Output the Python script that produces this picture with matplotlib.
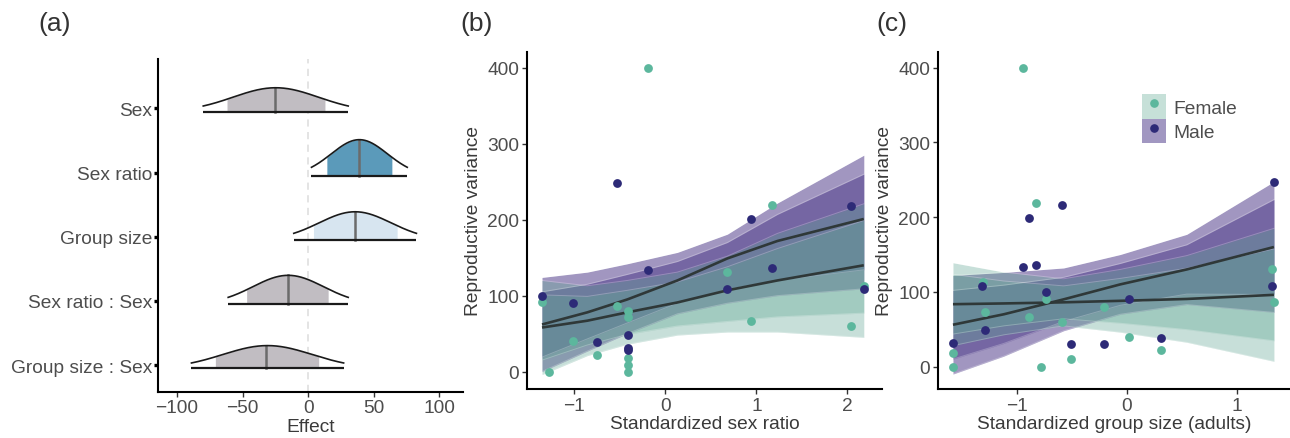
import numpy as np
import matplotlib.pyplot as plt
from matplotlib.patches import Patch
from matplotlib.lines import Line2D
from matplotlib.legend_handler import HandlerTuple

plt.rcParams['font.family'] = ['Liberation Sans', 'DejaVu Sans']

# ---- (a) posterior effects ----
terms = ['Sex', 'Sex ratio', 'Group size', 'Sex ratio : Sex', 'Group size : Sex']
eff_median = [-25, 39, 36, -15.5, -32.5]
eff_inner_lo = [-62, 14, 4, -47, -71]
eff_inner_hi = [13, 64, 68, 15.5, 8]
eff_outer_lo = [-80, 2.5, -11, -61, -89]
eff_outer_hi = [30.5, 75.5, 82.5, 30.5, 27]
eff_fill = ['#c1bdc2', '#5b9aba', '#d7e5f0', '#c1bdc2', '#c1bdc2']

# ---- (b) sex ratio ----
b_fem_x = [-0.194, -1.355, -1.275, -1.015, -0.747, -0.527, -0.407, -0.407, -0.407, -0.407, -0.407,
           0.674, 0.941, 1.172, 2.04, 2.18]
b_fem_y = [400, 91, 0, 40, 22, 86.5, 80, 72.5, 18, 9, 0, 131, 67, 220, 60, 113]
b_mal_x = [-1.355, -1.015, -0.747, -0.527, -0.407, -0.407, -0.407, -0.194, 0.674, 0.941, 1.172, 2.04, 2.18]
b_mal_y = [100, 90.5, 38.7, 248, 48.8, 31.6, 29, 133.6, 108.6, 200.5, 137, 218, 108.6]

b_grid = [-1.355, -0.857, -0.418, 0.132, 0.681, 1.231, 2.18]
b_mal_fit = [62, 78, 95, 120, 149, 172, 201]
b_mal_hi95 = [124, 131, 142, 157, 181, 222, 285]
b_mal_lo95 = [0, 27, 50, 76, 90, 100, 109]
b_mal_hi80 = [105, 115, 128, 145, 170, 207, 260]
b_mal_lo80 = [19, 43, 64, 90, 108, 120, 134]
b_fem_fit = [58, 67, 78, 91, 107, 120, 140]
b_fem_hi95 = [120, 113, 120, 131, 152, 182, 221]
b_fem_lo95 = [-4, 21, 36, 48, 52, 52, 45]
b_fem_hi80 = [101, 99, 107, 118, 138, 162, 199]
b_fem_lo80 = [15, 35, 49, 60, 66, 72, 77]

# ---- (c) group size ----
c_fem_x = [-0.946, -1.58, -1.58, -1.287, -1.31, -0.885, -0.822, -0.78, -0.737, -0.592, -0.51,
           -0.208, 0.015, 0.314, 1.315, 1.336]
c_fem_y = [400, 18, 0, 72.5, 113, 67, 219, 0, 91, 60, 9.5, 80, 40, 22, 130.6, 86]
c_mal_x = [-1.58, -1.312, -1.287, -0.946, -0.885, -0.822, -0.737, -0.592, -0.51, -0.208, 0.015,
           0.314, 1.336, 1.315]
c_mal_y = [32, 108, 49, 133, 199.5, 136.4, 100, 216, 30, 30, 90, 38.7, 246.6, 108]

c_grid = [-1.58, -1.118, -0.574, -0.06, 0.544, 1.336]
c_mal_fit = [56, 70, 90, 110, 130, 160]
c_mal_hi95 = [122, 126, 132, 150, 177, 247.5]
c_mal_lo95 = [-10, 14, 48, 70, 83, 72.5]
c_mal_hi80 = [102, 109, 119.5, 138, 163, 223.5]
c_mal_lo80 = [10, 31, 60.5, 82, 97, 96.5]
c_fem_fit = [83.5, 84.5, 86, 88, 90.5, 96]
c_fem_hi95 = [139, 126.5, 117.5, 130, 148.5, 185]
c_fem_lo95 = [28, 42.5, 54.5, 46, 32.5, 7]
c_fem_hi80 = [123.5, 114.5, 108, 118, 131.5, 157.5]
c_fem_lo80 = [43.5, 54.5, 64, 58, 49.5, 34.5]

FEM_PT = '#5cb79d'
MAL_PT = '#2d2a77'
FEM_FILL = '#5fa692'
MAL_FILL = '#513e8c'
ALPHA = {FEM_FILL: 0.35, MAL_FILL: 0.54}
TXT = '#4d4d4d'
FS = 13.8

fig = plt.figure(figsize=(12.9, 4.39), dpi=100)


def style_axes(ax):
    for s in ['top', 'right']:
        ax.spines[s].set_visible(False)
    for s in ['left', 'bottom']:
        ax.spines[s].set_linewidth(1.5)
        ax.spines[s].set_color('black')
    ax.tick_params(labelsize=FS, labelcolor=TXT, color='#333333', width=1.0, length=3.5, pad=2)


# ---------------- panel (a) ----------------
ax = fig.add_axes([158 / 1290, 1 - 392.7 / 439, 305 / 1290, 332.7 / 439])
ax.axvline(0, color='#e2e2e2', lw=1.3, ls=(0, (4, 3)), zorder=0)
n = len(terms)
for i in range(n):
    base = n - 1 - i
    lo, hi = eff_outer_lo[i], eff_outer_hi[i]
    mu = (lo + hi) / 2
    sd = (hi - lo) / 2 / 1.7
    xs = np.linspace(lo, hi, 300)
    dens = 30.3 * np.exp(-0.5 * ((xs - mu) / sd) ** 2) / (sd * np.sqrt(2 * np.pi))
    m = (xs >= eff_inner_lo[i]) & (xs <= eff_inner_hi[i])
    ax.fill_between(xs[m], base, base + dens[m], color=eff_fill[i], lw=0, zorder=1)
    ax.plot(xs, base + dens, color='#1a1a1a', lw=1.2, zorder=3)
    ax.plot([lo, hi], [base, base], color='#1a1a1a', lw=1.6, zorder=3, solid_capstyle='butt')
    dm = 30.3 * np.exp(-0.5 * ((eff_median[i] - mu) / sd) ** 2) / (sd * np.sqrt(2 * np.pi))
    ax.plot([eff_median[i]] * 2, [base, base + dm], color='#6b6b6b', lw=1.8, zorder=2)
ax.set_xlim(-114.5, 118)
ax.set_ylim(-0.364, 4.82)
ax.set_yticks([n - 1 - i + 0.05 for i in range(n)])
ax.set_yticklabels(terms)
ax.set_xticks([-100, -50, 0, 50, 100])
style_axes(ax)
ax.tick_params(axis='y', length=3, width=2.4, color='black', pad=1)
ax.set_xlabel('Effect', fontsize=FS, color='#3a3a3a', labelpad=1)
fig.text(55 / 1290, 1 - 24 / 439, '(a)', fontsize=19, ha='center', va='center', color='#333333')


# ---------------- panels (b), (c) ----------------
def draw_fit(ax, grid, fit, lo95, hi95, lo80, hi80, col):
    for lo, hi in [(lo95, hi95), (lo80, hi80)]:
        ax.fill_between(grid, lo, hi, color=col, alpha=ALPHA[col], lw=0, zorder=1)
        ax.plot(grid, lo, color='white', alpha=0.25, lw=0.7, zorder=1.5)
        ax.plot(grid, hi, color='white', alpha=0.25, lw=0.7, zorder=1.5)


def scatter_panel(rect, grid, mal, fem, fx, fy, mx, my, xlim, ylim, xticks, xlabel):
    ax = fig.add_axes(rect)
    draw_fit(ax, grid, *mal, MAL_FILL)
    draw_fit(ax, grid, *fem, FEM_FILL)
    ax.plot(grid, mal[0], color='#2f3838', lw=1.9, zorder=2, solid_capstyle='butt')
    ax.plot(grid, fem[0], color='#2f3838', lw=1.9, zorder=2, solid_capstyle='butt')
    ax.scatter(fx, fy, s=40, color=FEM_PT, lw=0, zorder=3)
    ax.scatter(mx, my, s=40, color=MAL_PT, lw=0, zorder=3)
    ax.set_xlim(*xlim)
    ax.set_ylim(*ylim)
    ax.set_xticks(xticks)
    ax.set_yticks([0, 100, 200, 300, 400])
    style_axes(ax)
    ax.set_xlabel(xlabel, fontsize=FS, color='#3a3a3a', labelpad=1)
    ax.set_ylabel('Reproductive variance', fontsize=FS, color='#3a3a3a', labelpad=4)
    return ax


axb = scatter_panel([527 / 1290, 1 - 390 / 439, 355 / 1290, 337 / 439], b_grid,
                    (b_mal_fit, b_mal_lo95, b_mal_hi95, b_mal_lo80, b_mal_hi80),
                    (b_fem_fit, b_fem_lo95, b_fem_hi95, b_fem_lo80, b_fem_hi80),
                    b_fem_x, b_fem_y, b_mal_x, b_mal_y,
                    (-1.52, 2.38), (-23, 421), [-1, 0, 1, 2], 'Standardized sex ratio')
fig.text(477 / 1290, 1 - 24 / 439, '(b)', fontsize=19, ha='center', va='center', color='#333333')

axc = scatter_panel([938 / 1290, 1 - 390 / 439, 352 / 1290, 337 / 439], c_grid,
                    (c_mal_fit, c_mal_lo95, c_mal_hi95, c_mal_lo80, c_mal_hi80),
                    (c_fem_fit, c_fem_lo95, c_fem_hi95, c_fem_lo80, c_fem_hi80),
                    c_fem_x, c_fem_y, c_mal_x, c_mal_y,
                    (-1.716, 1.482), (-30, 421), [-1, 0, 1], 'Standardized group size (adults)')
fig.text(892 / 1290, 1 - 24 / 439, '(c)', fontsize=19, ha='center', va='center', color='#333333')

handles = [(Patch(fc='#c6e0d8', ec='none'),
            Line2D([], [], marker='o', ls='', color=FEM_PT, ms=5.2)),
           (Patch(fc='#a197c1', ec='none'),
            Line2D([], [], marker='o', ls='', color=MAL_PT, ms=5.2))]
axc.legend(handles, ['Female', 'Male'], handler_map={tuple: HandlerTuple(ndivide=1, pad=0)},
           loc='upper left', bbox_to_anchor=(0.58, 0.875), frameon=False, fontsize=FS,
           handlelength=1.23, handleheight=1.6, labelspacing=0.0, handletextpad=0.4,
           borderpad=0, borderaxespad=0, labelcolor=TXT)

fig.savefig('out.png', dpi=100)
